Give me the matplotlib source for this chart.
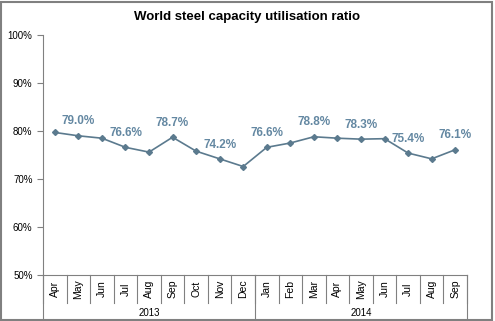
import matplotlib
matplotlib.use("Agg")
import matplotlib.pyplot as plt
from matplotlib.lines import Line2D
from matplotlib.patches import Rectangle
from matplotlib.ticker import FuncFormatter

plt.rcParams['font.family'] = ['Liberation Sans', 'DejaVu Sans']

months = ["Apr", "May", "Jun", "Jul", "Aug", "Sep", "Oct", "Nov", "Dec",
          "Jan", "Feb", "Mar", "Apr", "May", "Jun", "Jul", "Aug", "Sep"]
years = ["2013", "2014"]
year_sizes = [9, 9]
ratio = [79.7, 79.0, 78.5, 76.6, 75.6, 78.7, 75.8, 74.2, 72.6,
         76.6, 77.5, 78.8, 78.5, 78.3, 78.4, 75.4, 74.2, 76.1]
labelled = [1, 3, 5, 7, 9, 11, 13, 15, 17]

line_col = "#5b7a8e"
label_col = "#6488a2"

fig = plt.figure(figsize=(4.95, 3.21), dpi=100)
fig.patches.append(Rectangle((0.002, 0.003), 0.992, 0.99, transform=fig.transFigure,
                             fill=False, edgecolor="#808080", linewidth=1.5))
ax = fig.add_axes([43 / 495, 1 - 275 / 321, 424 / 495, 240 / 321])

x = list(range(len(ratio)))
ax.plot(x, ratio, color=line_col, linewidth=1.2, marker="D", markersize=3)
for i in labelled:
    ax.annotate(f"{ratio[i]:.1f}%", (i, ratio[i]), xytext=(0, 6), textcoords="offset points",
                ha="center", va="bottom", color=label_col, fontsize=8.5, fontweight="bold")

ax.set_xlim(-0.5, len(ratio) - 0.5)
ax.set_ylim(50, 100)
ax.set_yticks(range(50, 101, 10))
ax.yaxis.set_major_formatter(FuncFormatter(lambda v, p: f"{v:.0f}%"))
ax.tick_params(axis="y", direction="out", length=4, labelsize=7, color="#808080")
ax.set_xticks([])
for s in ["top", "right"]:
    ax.spines[s].set_visible(False)
ax.spines["left"].set_color("#808080")
ax.spines["bottom"].set_color("#808080")

trans = ax.get_xaxis_transform()
px = 1 / 240
for i, m in enumerate(months):
    ax.text(i, -14 * px, m, rotation=90, ha="center", va="center", fontsize=7.5,
            transform=trans, clip_on=False)
for i in range(len(months) + 1):
    ax.add_line(Line2D([i - 0.5, i - 0.5], [0, -28 * px], transform=trans,
                       color="#808080", linewidth=0.8, clip_on=False))
start = 0
for yr, n in zip(years, year_sizes):
    ax.text(start + (n - 1) / 2, -38 * px, yr, ha="center", va="center", fontsize=7,
            transform=trans, clip_on=False)
    start += n
bounds = [-0.5]
for n in year_sizes:
    bounds.append(bounds[-1] + n)
for b in bounds:
    ax.add_line(Line2D([b, b], [0, -46 * px], transform=trans,
                       color="#808080", linewidth=0.8, clip_on=False))

fig.text(0.5, 1 - 17 / 321, "World steel capacity utilisation ratio", ha="center", va="center",
         fontsize=9.5, fontweight="bold")

fig.savefig("out.png", dpi=100)
